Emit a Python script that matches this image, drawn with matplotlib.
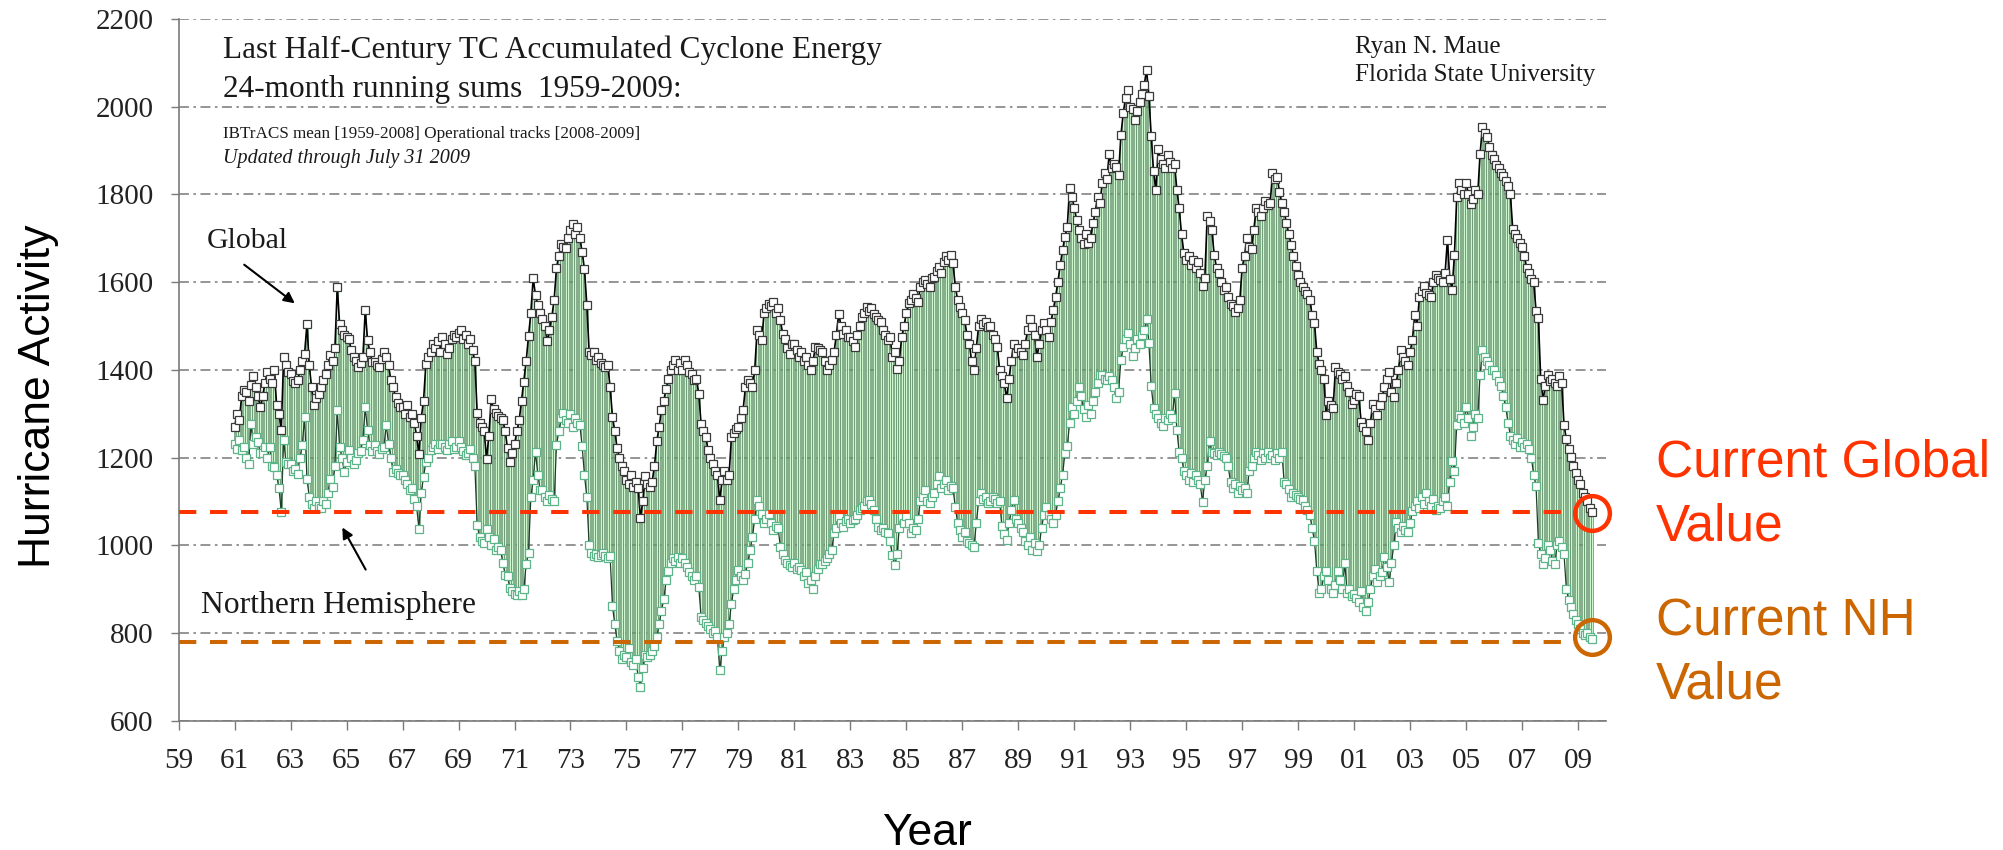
"""ace_running_sums.py - 24-month running sums of accumulated cyclone energy,
global vs northern hemisphere, 1961-2009 (after R. N. Maue, FSU).

Output: out.png
"""

import numpy as np
import matplotlib
matplotlib.use("Agg")
import matplotlib.pyplot as plt

plt.rcParams.update({
    "font.family": "Liberation Serif",
    "axes.spines.top": False,
    "axes.spines.right": False,
})

# ── Data (monthly, Jan 1961 .. Jul 2009) ───────────────────────────────────
start_year = 1961
global_ace = [
    1270, 1300, 1285, 1340, 1355, 1350, 1330, 1365, 1385, 1360, 1340, 1315,  # 1961
    1340, 1370, 1395, 1380, 1370, 1400, 1320, 1300, 1262, 1430, 1410, 1395,  # 1962
    1390, 1375, 1370, 1376, 1400, 1420, 1437, 1505, 1410, 1360, 1320, 1335,  # 1963
    1346, 1360, 1376, 1390, 1410, 1433, 1420, 1450, 1589, 1505, 1490, 1480,  # 1964
    1475, 1470, 1445, 1430, 1420, 1406, 1415, 1430, 1536, 1467, 1440, 1418,  # 1965
    1418, 1410, 1406, 1425, 1441, 1430, 1410, 1376, 1360, 1338, 1325, 1315,  # 1966
    1315, 1300, 1320, 1293, 1300, 1280, 1250, 1209, 1290, 1330, 1414, 1430,  # 1967
    1440, 1460, 1450, 1465, 1440, 1475, 1460, 1437, 1450, 1470, 1480, 1475,  # 1968
    1485, 1490, 1470, 1480, 1460, 1470, 1445, 1420, 1301, 1280, 1270, 1261,  # 1969
    1197, 1250, 1333, 1310, 1301, 1295, 1290, 1285, 1260, 1221, 1190, 1210,  # 1970
    1230, 1260, 1285, 1330, 1373, 1420, 1477, 1530, 1609, 1570, 1549, 1530,  # 1971
    1517, 1500, 1465, 1490, 1521, 1560, 1633, 1660, 1688, 1680, 1677, 1700,  # 1972
    1720, 1732, 1709, 1725, 1700, 1669, 1629, 1549, 1441, 1435, 1441, 1422,  # 1973
    1430, 1415, 1410, 1406, 1410, 1360, 1293, 1260, 1221, 1200, 1181, 1170,  # 1974
    1150, 1140, 1160, 1132, 1145, 1130, 1062, 1100, 1157, 1140, 1132, 1145,  # 1975
    1180, 1237, 1270, 1309, 1330, 1357, 1380, 1400, 1410, 1422, 1400, 1415,  # 1976
    1400, 1422, 1410, 1395, 1390, 1376, 1380, 1346, 1277, 1260, 1247, 1217,  # 1977
    1200, 1186, 1170, 1160, 1103, 1148, 1170, 1150, 1160, 1247, 1255, 1265,  # 1978
    1270, 1290, 1308, 1360, 1376, 1370, 1360, 1400, 1490, 1480, 1467, 1530,  # 1979
    1540, 1551, 1545, 1555, 1530, 1540, 1513, 1482, 1470, 1450, 1437, 1460,  # 1980
    1460, 1445, 1430, 1440, 1420, 1430, 1410, 1399, 1420, 1452, 1450, 1445,  # 1981
    1440, 1420, 1399, 1410, 1422, 1440, 1480, 1528, 1500, 1482, 1490, 1475,  # 1982
    1475, 1465, 1452, 1480, 1500, 1520, 1530, 1543, 1535, 1540, 1528, 1520,  # 1983
    1513, 1510, 1490, 1480, 1467, 1475, 1430, 1440, 1403, 1420, 1475, 1500,  # 1984
    1530, 1552, 1560, 1574, 1565, 1555, 1590, 1600, 1605, 1595, 1590, 1610,  # 1985
    1612, 1625, 1635, 1620, 1645, 1660, 1650, 1662, 1643, 1590, 1560, 1544,  # 1986
    1530, 1514, 1480, 1460, 1420, 1400, 1450, 1500, 1517, 1505, 1510, 1498,  # 1987
    1500, 1480, 1470, 1453, 1400, 1385, 1369, 1335, 1380, 1420, 1460, 1438,  # 1988
    1450, 1440, 1434, 1460, 1490, 1517, 1498, 1480, 1430, 1460, 1490, 1506,  # 1989
    1490, 1476, 1510, 1536, 1567, 1601, 1640, 1673, 1704, 1726, 1814, 1795,  # 1990
    1770, 1742, 1720, 1700, 1688, 1710, 1690, 1700, 1734, 1760, 1795, 1780,  # 1991
    1825, 1848, 1835, 1893, 1860, 1870, 1863, 1844, 1935, 1985, 2021, 2038,  # 1992
    2000, 1996, 1970, 1990, 2010, 2030, 2050, 2084, 2025, 1933, 1853, 1810,  # 1993
    1903, 1880, 1870, 1861, 1890, 1875, 1861, 1870, 1810, 1768, 1709, 1667,  # 1994
    1650, 1660, 1640, 1650, 1633, 1645, 1620, 1591, 1610, 1751, 1740, 1718,  # 1995
    1663, 1633, 1620, 1600, 1583, 1590, 1566, 1550, 1545, 1532, 1540, 1560,  # 1996
    1633, 1660, 1701, 1680, 1676, 1720, 1768, 1760, 1751, 1770, 1785, 1777,  # 1997
    1780, 1848, 1836, 1840, 1806, 1781, 1760, 1735, 1710, 1684, 1660, 1638,  # 1998
    1617, 1600, 1590, 1580, 1574, 1560, 1524, 1507, 1440, 1414, 1400, 1380,  # 1999
    1296, 1330, 1320, 1313, 1406, 1395, 1390, 1380, 1385, 1364, 1350, 1322,  # 2000
    1331, 1345, 1340, 1282, 1270, 1260, 1241, 1280, 1323, 1310, 1298, 1320,  # 2001
    1339, 1360, 1380, 1396, 1350, 1339, 1370, 1400, 1445, 1430, 1420, 1412,  # 2002
    1440, 1469, 1526, 1500, 1567, 1580, 1591, 1575, 1570, 1567, 1600, 1616,  # 2003
    1610, 1605, 1600, 1620, 1697, 1608, 1583, 1661, 1795, 1827, 1810, 1800,  # 2004
    1827, 1800, 1779, 1790, 1810, 1800, 1892, 1953, 1941, 1930, 1909, 1890,  # 2005
    1880, 1868, 1860, 1850, 1843, 1830, 1819, 1800, 1722, 1710, 1700, 1690,  # 2006
    1681, 1660, 1632, 1620, 1608, 1600, 1535, 1518, 1380, 1331, 1364, 1388,  # 2007
    1375, 1380, 1370, 1364, 1385, 1370, 1274, 1242, 1220, 1201, 1180, 1164,  # 2008
    1150, 1140, 1120, 1110, 1100, 1085, 1075,                                # 2009
]
nh_ace = [
    1232, 1220, 1240, 1217, 1225, 1200, 1186, 1277, 1230, 1247, 1235, 1210,  # 1961
    1210, 1225, 1200, 1224, 1180, 1179, 1160, 1130, 1076, 1240, 1190, 1186,  # 1962
    1186, 1170, 1175, 1163, 1200, 1228, 1293, 1152, 1110, 1095, 1084, 1100,  # 1963
    1090, 1084, 1100, 1095, 1120, 1152, 1133, 1180, 1308, 1224, 1200, 1167,  # 1964
    1190, 1217, 1200, 1186, 1195, 1210, 1215, 1240, 1315, 1262, 1228, 1215,  # 1965
    1228, 1215, 1209, 1220, 1225, 1274, 1232, 1200, 1167, 1175, 1165, 1160,  # 1966
    1160, 1150, 1140, 1125, 1130, 1106, 1090, 1038, 1120, 1156, 1190, 1200,  # 1967
    1217, 1225, 1232, 1220, 1230, 1232, 1225, 1217, 1230, 1237, 1220, 1225,  # 1968
    1237, 1225, 1215, 1205, 1210, 1220, 1200, 1180, 1046, 1020, 1010, 1005,  # 1969
    1037, 1020, 1000, 1015, 989, 995, 990, 960, 933, 930, 902, 895,          # 1970
    890, 886, 895, 886, 900, 957, 982, 1110, 1150, 1213, 1160, 1125,         # 1971
    1125, 1110, 1100, 1115, 1105, 1100, 1229, 1260, 1290, 1301, 1285, 1280,  # 1972
    1300, 1269, 1290, 1280, 1275, 1226, 1160, 1110, 1001, 982, 975, 980,     # 1973
    973, 978, 982, 975, 970, 975, 861, 820, 781, 760, 741, 750,              # 1974
    745, 765, 735, 727, 740, 700, 678, 720, 750, 745, 750, 760,              # 1975
    770, 790, 821, 850, 877, 920, 941, 960, 972, 965, 974, 960,              # 1976
    972, 960, 950, 940, 930, 921, 930, 905, 837, 830, 822, 815,              # 1977
    810, 799, 805, 790, 715, 760, 790, 800, 820, 867, 900, 920,              # 1978
    943, 930, 920, 935, 960, 990, 1019, 1060, 1103, 1090, 1072, 1050,        # 1979
    1060, 1072, 1050, 1034, 1045, 1040, 996, 980, 966, 960, 955, 951,        # 1980
    960, 945, 950, 943, 930, 940, 913, 920, 900, 930, 945, 958,              # 1981
    958, 965, 970, 981, 990, 1027, 1040, 1065, 1050, 1042, 1055, 1060,       # 1982
    1050, 1057, 1060, 1070, 1080, 1085, 1090, 1100, 1103, 1095, 1080, 1060,  # 1983
    1042, 1035, 1040, 1030, 1027, 1010, 977, 955, 980, 1040, 1065, 1050,     # 1984
    1066, 1050, 1028, 1040, 1035, 1060, 1100, 1110, 1126, 1100, 1096, 1110,  # 1985
    1120, 1140, 1157, 1130, 1140, 1150, 1126, 1135, 1130, 1088, 1050, 1035,  # 1986
    1020, 1030, 1010, 1005, 1000, 997, 1050, 1100, 1119, 1105, 1110, 1096,   # 1987
    1100, 1110, 1105, 1096, 1100, 1043, 1025, 1012, 1050, 1080, 1104, 1060,  # 1988
    1050, 1040, 1030, 1010, 1000, 1020, 990, 1005, 986, 1000, 1040, 1070,    # 1989
    1088, 1070, 1060, 1050, 1070, 1100, 1130, 1161, 1210, 1226, 1278, 1316,  # 1990
    1300, 1330, 1362, 1340, 1310, 1293, 1320, 1300, 1330, 1350, 1370, 1388,  # 1991
    1388, 1380, 1377, 1385, 1377, 1360, 1335, 1350, 1423, 1453, 1470, 1483,  # 1992
    1460, 1431, 1450, 1470, 1460, 1480, 1490, 1515, 1461, 1364, 1313, 1300,  # 1993
    1290, 1280, 1271, 1290, 1285, 1300, 1290, 1347, 1263, 1212, 1200, 1170,  # 1994
    1160, 1150, 1165, 1145, 1160, 1150, 1140, 1098, 1150, 1180, 1237, 1212,  # 1995
    1210, 1205, 1212, 1208, 1204, 1200, 1180, 1145, 1130, 1140, 1120, 1135,  # 1996
    1125, 1130, 1120, 1170, 1180, 1200, 1212, 1205, 1195, 1210, 1200, 1212,  # 1997
    1200, 1205, 1195, 1210, 1200, 1212, 1145, 1140, 1128, 1111, 1120, 1115,  # 1998
    1110, 1105, 1103, 1090, 1080, 1069, 1040, 1010, 942, 892, 900, 930,      # 1999
    942, 920, 900, 892, 910, 942, 920, 900, 959, 892, 900, 884,              # 2000
    890, 880, 870, 895, 860, 851, 870, 900, 930, 945, 916, 930,              # 2001
    940, 973, 950, 916, 960, 1000, 1054, 1040, 1030, 1045, 1035, 1030,       # 2002
    1050, 1079, 1090, 1100, 1085, 1110, 1095, 1120, 1100, 1090, 1105, 1080,  # 2003
    1090, 1085, 1100, 1110, 1090, 1144, 1193, 1170, 1274, 1298, 1290, 1280,  # 2004
    1315, 1290, 1250, 1270, 1300, 1290, 1388, 1445, 1430, 1421, 1410, 1400,  # 2005
    1400, 1388, 1375, 1364, 1340, 1315, 1280, 1250, 1240, 1230, 1245, 1225,  # 2006
    1235, 1225, 1230, 1220, 1200, 1160, 1136, 1006, 980, 957, 970, 1000,     # 2007
    990, 965, 957, 1000, 1010, 997, 980, 900, 875, 860, 843, 830,            # 2008
    820, 810, 800, 795, 800, 790, 786,                                       # 2009
]
current_global = 1077
current_nh = 786

tick_years = list(range(1959, 2010, 2))
tick_labels = [f"{y % 100:02d}" for y in tick_years]
y_ticks = list(range(600, 2201, 200))

# ── Derived ────────────────────────────────────────────────────────────────
g = np.array(global_ace, dtype=float)
nh = np.array(nh_ace, dtype=float)
t = start_year + np.arange(len(g)) / 12.0

# ── Plot ───────────────────────────────────────────────────────────────────
fig = plt.figure(figsize=(20.03, 8.5), dpi=100)
ax = fig.add_axes([0.0892, 0.1521, 0.8018 - 0.0892, 0.9776 - 0.1521])

ax.set_xlim(1959, 2010)
ax.set_ylim(600, 2200)
ax.set_axisbelow(True)
ax.yaxis.grid(True, color="#8c8c8c", linewidth=1.3,
              linestyle=(0, (5.5, 2.5, 1.4, 2.5)))

# up/down bars between the two series
ax.bar(t, g - nh, bottom=nh, width=0.72 / 12, color="#cdf8cd",
       edgecolor="#3d7449", linewidth=0.4, zorder=2)

ax.plot(t, nh, color="#1e3d28", linewidth=0.9, zorder=3)
ax.plot(t, nh, linestyle="none", marker="s", markersize=5.5,
        markerfacecolor="white", markeredgecolor="#5cb488",
        markeredgewidth=0.9, zorder=3)
ax.plot(t, g, color="black", linewidth=1.2, marker="s", markersize=5.5,
        markerfacecolor="white", markeredgecolor="#3a3a3a",
        markeredgewidth=0.9, zorder=4)

# current values
x_end = t[-1]
ax.plot([1959, x_end - 0.72], [current_global] * 2, color="#ff3300",
        linewidth=2.9, linestyle=(0, (4.3, 3.4)), zorder=5, clip_on=False)
ax.plot([1959, x_end - 0.72], [current_nh - 6] * 2, color="#cc6600",
        linewidth=2.9, linestyle=(0, (4.3, 3.4)), zorder=5, clip_on=False)
ax.plot([x_end], [current_global - 4], marker="o", markersize=25,
        markerfacecolor="none", markeredgecolor="#ff3300",
        markeredgewidth=3.2, zorder=6, clip_on=False)
ax.plot([x_end], [current_nh + 5], marker="o", markersize=25,
        markerfacecolor="none", markeredgecolor="#cc6600",
        markeredgewidth=3.2, zorder=6, clip_on=False)

# axes styling
for side in ("left", "bottom"):
    ax.spines[side].set_color("#7a7a7a")
    ax.spines[side].set_linewidth(1.2)
ax.set_xticks(tick_years)
ax.set_xticklabels(tick_labels)
ax.set_yticks(y_ticks)
ax.tick_params(axis="x", direction="out", length=6.5, width=1.0,
               color="#7a7a7a", pad=13, labelsize=21, labelcolor="#222222")
ax.tick_params(axis="y", direction="out", length=6, width=1.0,
               color="#7a7a7a", pad=12, labelsize=21, labelcolor="#222222")

# ── Annotations ────────────────────────────────────────────────────────────
fig.text(0.1113, 0.9318, "Last Half-Century TC Accumulated Cyclone Energy",
         fontsize=22.5, color="#1a1a1a", va="baseline")
fig.text(0.1113, 0.8859, "24-month running sums  1959-2009:",
         fontsize=22.5, color="#1a1a1a", va="baseline")
fig.text(0.1113, 0.8376, "IBTrACS mean [1959-2008] Operational tracks [2008-2009]",
         fontsize=12.3, color="#1a1a1a", va="baseline")
fig.text(0.1113, 0.8082, "Updated through July 31 2009",
         fontsize=14.5, style="italic", color="#1a1a1a", va="baseline")
fig.text(0.6765, 0.9376, "Ryan N. Maue", fontsize=18, color="#1a1a1a",
         va="baseline")
fig.text(0.6765, 0.9047, "Florida State University", fontsize=18,
         color="#1a1a1a", va="baseline")

fig.text(0.1033, 0.7082, "Global", fontsize=21.5, color="#1a1a1a",
         va="baseline")
fig.text(0.1003, 0.2788, "Northern Hemisphere", fontsize=22.8,
         color="#1a1a1a", va="baseline")
ax.annotate("", xy=(297, 545), xytext=(242, 587), xycoords="figure pixels",
            textcoords="figure pixels",
            arrowprops=dict(arrowstyle="-|>", color="black", lw=1.5,
                            mutation_scale=16))
ax.annotate("", xy=(341, 325), xytext=(367, 278), xycoords="figure pixels",
            textcoords="figure pixels",
            arrowprops=dict(arrowstyle="-|>", color="black", lw=1.5,
                            mutation_scale=16))

sans = "Liberation Sans"
fig.text(0.019, 0.534, "Hurricane Activity", rotation=90, ha="center",
         va="center", fontsize=32, family=sans)
fig.text(0.463, 0.006, "Year", ha="center", va="baseline", fontsize=32,
         family=sans)
fig.text(0.8268, 0.4392, "Current Global", fontsize=37, color="#ff3300",
         family=sans, va="baseline")
fig.text(0.8268, 0.3647, "Value", fontsize=37, color="#ff3300",
         family=sans, va="baseline")
fig.text(0.8268, 0.2529, "Current NH", fontsize=37, color="#cc6600",
         family=sans, va="baseline")
fig.text(0.8268, 0.1788, "Value", fontsize=37, color="#cc6600",
         family=sans, va="baseline")

fig.savefig("out.png", dpi=100)
plt.close(fig)
